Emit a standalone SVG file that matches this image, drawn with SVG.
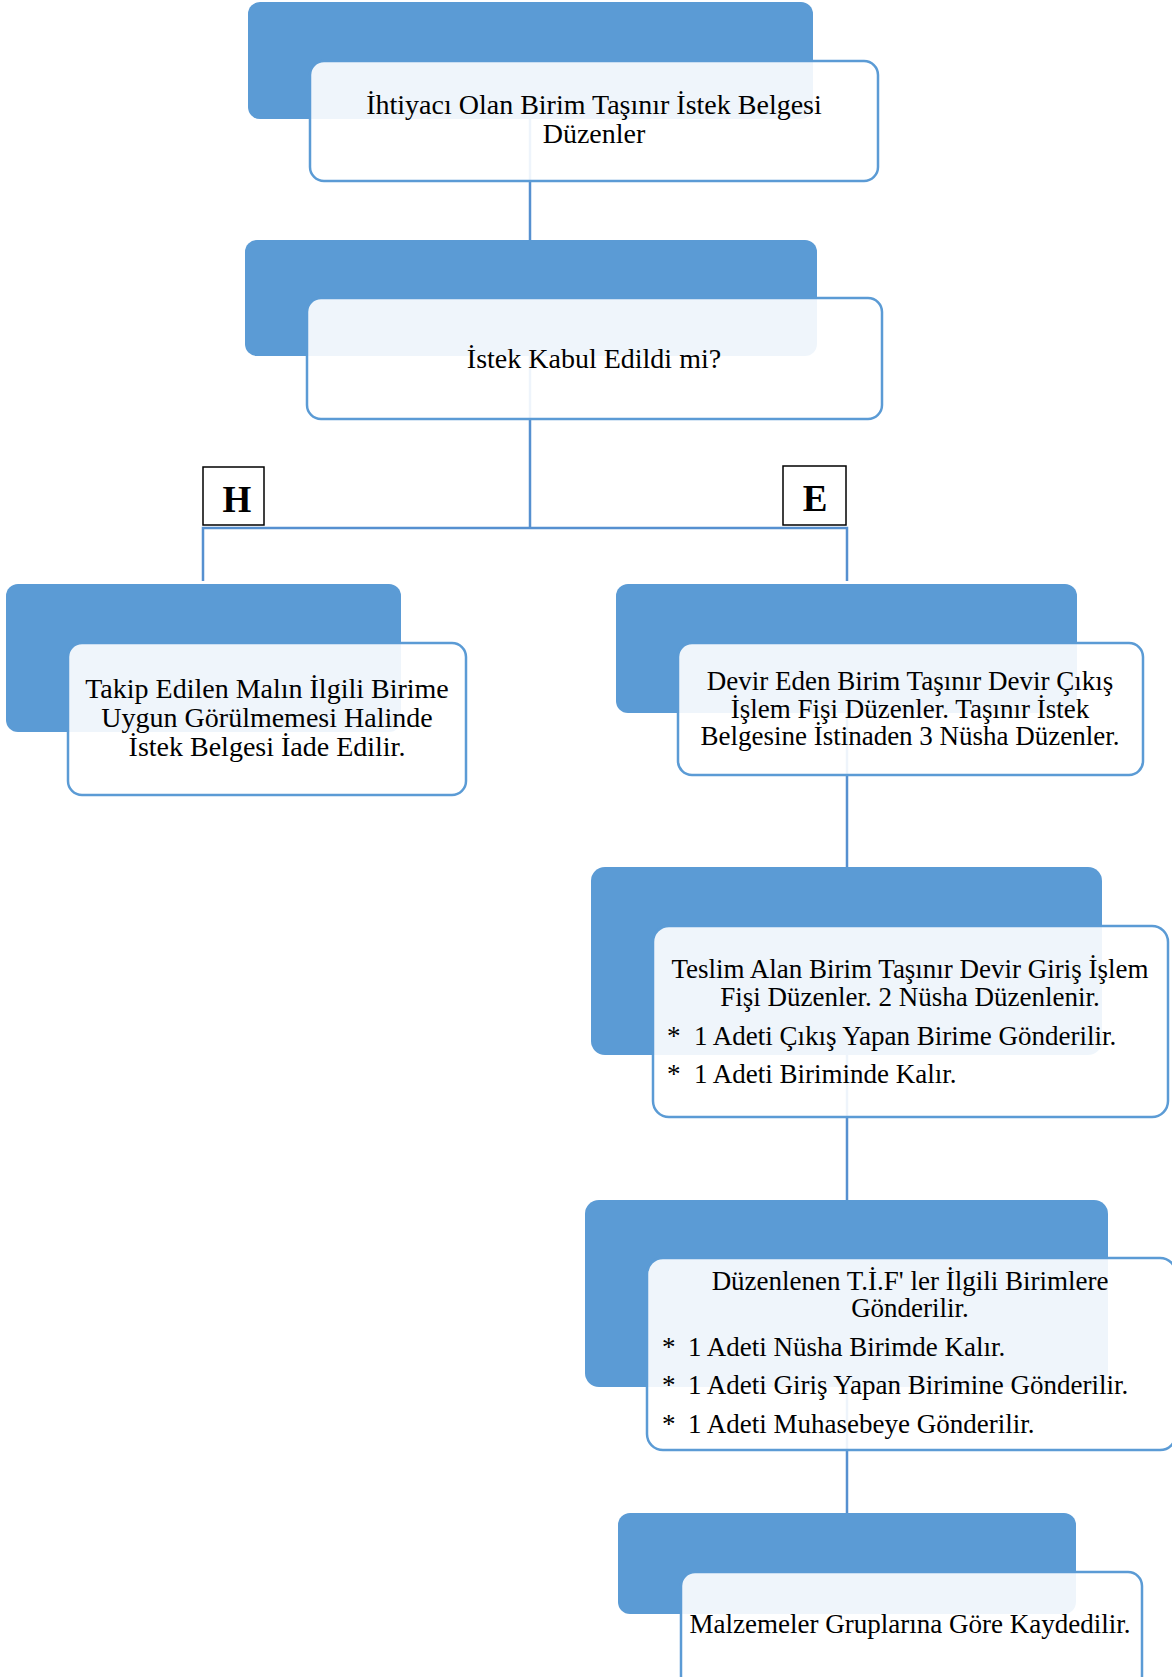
<svg xmlns="http://www.w3.org/2000/svg" width="1172" height="1677" viewBox="0 0 1172 1677">
<style>
.back{fill:#5B9BD5;}
.front{fill:#FFFFFF;fill-opacity:0.9;stroke:#5B9BD5;stroke-width:2.5;}
.t{font-family:"Liberation Serif","Times New Roman",serif;font-size:27px;fill:#000;}
.big{font-size:28px;}
.c{text-anchor:middle;}
.conn{fill:none;stroke:#5690D0;stroke-width:2.5;}
.lbl{fill:#fff;stroke:#000;stroke-width:1.5;}
.lt{font-family:"Liberation Serif","Times New Roman",serif;font-size:37px;font-weight:bold;text-anchor:middle;fill:#000;}
</style>
<rect width="1172" height="1677" fill="#fff"/>
<g id="connectors">
<line class="conn" x1="530" y1="60" x2="530" y2="300"/>
<polyline class="conn" points="530,300 530,528"/>
<polyline class="conn" points="203,581 203,528 847,528 847,581"/>
<line class="conn" x1="847" y1="650" x2="847" y2="930"/>
<line class="conn" x1="847" y1="960" x2="847" y2="1260"/>
<line class="conn" x1="847" y1="1290" x2="847" y2="1560"/>
</g>
<g id="label-H">
<rect class="lbl" x="203" y="467" width="61" height="58"/>
<text class="lt" x="237" y="512">H</text>
</g>
<g id="label-E">
<rect class="lbl" x="783" y="466" width="63" height="59"/>
<text class="lt" x="815" y="511">E</text>
</g>
<g id="n1">
<rect class="back" x="248" y="2" width="565" height="117" rx="12"/>
<rect class="front" x="310" y="61" width="568" height="120" rx="14"/>
<text class="t big c" x="594" y="114">İhtiyacı Olan Birim Taşınır İstek Belgesi</text>
<text class="t big c" x="594" y="143">Düzenler</text>
</g>
<g id="n2">
<rect class="back" x="245" y="240" width="572" height="116" rx="12"/>
<rect class="front" x="307" y="298" width="575" height="121" rx="14"/>
<text class="t big c" x="594" y="368">İstek Kabul Edildi mi?</text>
</g>
<g id="n3">
<rect class="back" x="6" y="584" width="395" height="148" rx="12"/>
<rect class="front" x="68" y="643" width="398" height="152" rx="14"/>
<text class="t big c" x="267" y="698">Takip Edilen Malın İlgili Birime</text>
<text class="t big c" x="267" y="727">Uygun Görülmemesi Halinde</text>
<text class="t big c" x="267" y="756">İstek Belgesi İade Edilir.</text>
</g>
<g id="n4">
<rect class="back" x="616" y="584" width="461" height="129" rx="12"/>
<rect class="front" x="678" y="643" width="465" height="132" rx="14"/>
<text class="t c" x="910" y="690">Devir Eden Birim Taşınır Devir Çıkış</text>
<text class="t c" x="910" y="718">İşlem Fişi Düzenler. Taşınır İstek</text>
<text class="t c" x="910" y="745">Belgesine İstinaden 3 Nüsha Düzenler.</text>
</g>
<g id="n5">
<rect class="back" x="591" y="867" width="511" height="188" rx="14"/>
<rect class="front" x="653" y="926" width="515" height="191" rx="16"/>
<text class="t c" x="910" y="978">Teslim Alan Birim Taşınır Devir Giriş İşlem</text>
<text class="t c" x="910" y="1006">Fişi Düzenler. 2 Nüsha Düzenlenir.</text>
<text class="t" x="667" y="1045">*</text><text class="t" x="694" y="1045">1 Adeti Çıkış Yapan Birime Gönderilir.</text>
<text class="t" x="667" y="1083">*</text><text class="t" x="694" y="1083">1 Adeti Biriminde Kalır.</text>
</g>
<g id="n6">
<rect class="back" x="585" y="1200" width="523" height="187" rx="14"/>
<rect class="front" x="647" y="1258" width="529" height="192" rx="16"/>
<text class="t c" x="910" y="1290">Düzenlenen T.İ.F' ler İlgili Birimlere</text>
<text class="t c" x="910" y="1317">Gönderilir.</text>
<text class="t" x="662" y="1356">*</text><text class="t" x="688" y="1356">1 Adeti Nüsha Birimde Kalır.</text>
<text class="t" x="662" y="1394">*</text><text class="t" x="688" y="1394">1 Adeti Giriş Yapan Birimine Gönderilir.</text>
<text class="t" x="662" y="1433">*</text><text class="t" x="688" y="1433">1 Adeti Muhasebeye Gönderilir.</text>
</g>
<g id="n7">
<rect class="back" x="618" y="1513" width="458" height="101" rx="12"/>
<rect class="front" x="681" y="1572" width="461" height="118" rx="14"/>
<text class="t c" x="910" y="1633">Malzemeler Gruplarına Göre Kaydedilir.</text>
</g>
</svg>
